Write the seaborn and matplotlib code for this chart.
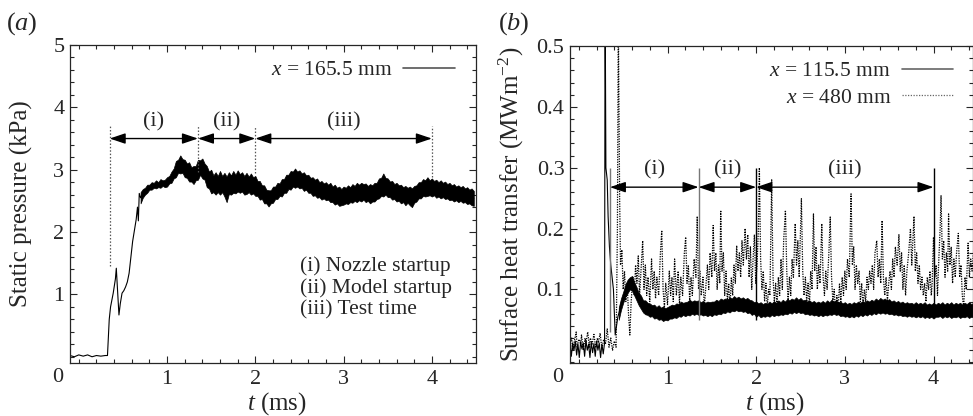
import matplotlib
matplotlib.use("Agg")
import matplotlib.pyplot as plt
from matplotlib.lines import Line2D
from matplotlib.ticker import MultipleLocator
import numpy as np
import seaborn as sns

# ---- data ----
# (a) static pressure at x = 165.5 mm, start-up part (irregular samples)
pa_t_start = [-0.10, -0.05, 0.00, 0.05, 0.10, 0.15, 0.20, 0.25, 0.30, 0.325, 0.345,
              0.36, 0.39, 0.415, 0.425, 0.44, 0.455, 0.47, 0.49, 0.51, 0.53, 0.55,
              0.57, 0.59, 0.61, 0.63, 0.65, 0.665, 0.675, 0.685, 0.70]
pa_p_start = [0.02, 0.00, 0.03, 0.01, 0.03, 0.00, 0.02, 0.01, 0.02, 0.02, 0.60,
              0.80, 1.02, 1.25, 1.42, 1.05, 0.67, 0.85, 1.02, 1.06, 1.12, 1.20,
              1.34, 1.60, 1.85, 2.03, 2.20, 2.40, 2.18, 2.62, 2.55]
# noisy part: upper / lower edge of the trace every 0.025 ms from 0.70 ms
pa_p_upper = [
    2.64, 2.69, 2.71, 2.76, 2.76, 2.80, 2.79, 2.83, 2.80, 2.85, 2.83, 2.84,
    2.88, 2.90, 2.97, 3.02, 3.14, 3.16, 3.23, 3.17, 3.16, 3.10, 3.12, 3.04,
    3.06, 3.06, 3.16, 3.15, 3.18, 3.10, 3.06, 2.97, 3.00, 2.91, 2.96, 2.90,
    2.98, 2.90, 2.95, 2.89, 2.96, 2.91, 2.98, 2.92, 2.99, 2.93, 2.96, 2.90,
    2.95, 2.89, 2.94, 2.88, 2.90, 2.82, 2.82, 2.75, 2.75, 2.68, 2.67, 2.67,
    2.73, 2.73, 2.79, 2.78, 2.85, 2.85, 2.92, 2.92, 2.98, 2.97, 3.02, 2.97,
    2.99, 2.94, 2.96, 2.91, 2.92, 2.87, 2.88, 2.84, 2.86, 2.80, 2.82, 2.78,
    2.80, 2.76, 2.79, 2.73, 2.76, 2.71, 2.73, 2.69, 2.73, 2.71, 2.75, 2.72,
    2.77, 2.74, 2.79, 2.76, 2.79, 2.77, 2.78, 2.74, 2.77, 2.75, 2.79, 2.79,
    2.86, 2.87, 2.94, 2.87, 2.86, 2.81, 2.82, 2.77, 2.79, 2.75, 2.76, 2.72,
    2.74, 2.71, 2.73, 2.70, 2.74, 2.75, 2.80, 2.80, 2.85, 2.83, 2.88, 2.83,
    2.86, 2.82, 2.84, 2.80, 2.83, 2.79, 2.81, 2.77, 2.79, 2.75, 2.77, 2.73,
    2.75, 2.72, 2.74, 2.70, 2.72, 2.68, 2.70, 2.66]
pa_p_lower = [
    2.46, 2.55, 2.60, 2.63, 2.68, 2.68, 2.71, 2.70, 2.72, 2.71, 2.74, 2.72,
    2.73, 2.78, 2.79, 2.86, 2.88, 2.95, 2.94, 2.95, 2.88, 2.87, 2.81, 2.81,
    2.77, 2.83, 2.84, 2.92, 2.86, 2.84, 2.72, 2.70, 2.62, 2.64, 2.60, 2.64,
    2.60, 2.64, 2.57, 2.48, 2.61, 2.60, 2.63, 2.62, 2.65, 2.63, 2.65, 2.60,
    2.61, 2.64, 2.60, 2.62, 2.58, 2.58, 2.52, 2.53, 2.46, 2.46, 2.41, 2.46,
    2.47, 2.53, 2.53, 2.58, 2.57, 2.63, 2.63, 2.69, 2.68, 2.73, 2.71, 2.73,
    2.70, 2.71, 2.66, 2.68, 2.63, 2.63, 2.58, 2.59, 2.55, 2.56, 2.52, 2.54,
    2.51, 2.52, 2.48, 2.48, 2.44, 2.46, 2.42, 2.43, 2.44, 2.46, 2.45, 2.48,
    2.47, 2.50, 2.48, 2.51, 2.49, 2.52, 2.48, 2.50, 2.46, 2.49, 2.49, 2.53,
    2.54, 2.58, 2.57, 2.60, 2.56, 2.56, 2.52, 2.53, 2.49, 2.50, 2.46, 2.48,
    2.43, 2.47, 2.43, 2.40, 2.47, 2.49, 2.54, 2.54, 2.58, 2.57, 2.58, 2.59,
    2.57, 2.59, 2.55, 2.57, 2.54, 2.56, 2.53, 2.54, 2.51, 2.52, 2.49, 2.51,
    2.48, 2.50, 2.47, 2.48, 2.45, 2.46, 2.43, 2.42]

# (b) heat transfer at x = 115.5 mm, start-up part
pb1_t_start = [-0.10, -0.085, -0.07, -0.055, -0.04, -0.025, -0.01, 0.005, 0.02, 0.035,
               0.05, 0.065, 0.08, 0.095, 0.11, 0.125, 0.14, 0.155, 0.17, 0.185, 0.20,
               0.215, 0.23, 0.245, 0.26, 0.275, 0.29, 0.296, 0.305, 0.32, 0.33, 0.345,
               0.36, 0.375, 0.39, 0.40, 0.41, 0.425, 0.44]
pb1_q_start = [0.008, -0.01, 0.012, 0.0, 0.015, -0.008, 0.01, -0.012, 0.014, 0.002,
               0.012, -0.01, 0.016, 0.0, 0.01, -0.012, 0.013, -0.004, 0.011, -0.01, 0.015,
               0.0, 0.012, -0.012, 0.01, -0.006, 0.012, 0.60, 0.30, 0.28, 0.22, 0.17,
               0.14, 0.12, 0.10, 0.06, 0.025, 0.04, 0.055]
# upper / lower edge every 0.025 ms from 0.45 ms
pb1_q_upper = [
    .070, .085, .096, .108, .116, .120, .122, .112, .104, .094, .090, .082,
    .082, .078, .077, .074, .075, .071, .074, .070, .072, .069, .071, .073,
    .075, .074, .077, .076, .080, .078, .079, .080, .083, .080, .082, .081,
    .082, .079, .081, .078, .080, .079, .080, .080, .083, .081, .085, .083,
    .085, .083, .087, .085, .089, .086, .088, .085, .087, .084, .086, .083,
    .082, .079, .080, .077, .079, .076, .078, .076, .080, .077, .081, .078,
    .082, .079, .083, .080, .084, .082, .085, .083, .087, .083, .086, .082,
    .083, .080, .082, .079, .081, .078, .080, .078, .081, .078, .082, .079,
    .083, .080, .082, .079, .080, .077, .079, .076, .078, .076, .079, .077,
    .080, .078, .081, .079, .082, .080, .083, .081, .085, .082, .086, .083,
    .085, .082, .084, .080, .082, .079, .081, .078, .080, .077, .079, .077,
    .078, .076, .079, .076, .078, .076, .079, .075, .077, .075, .078, .075,
    .078, .076, .079, .075, .078, .076, .079, .075, .078, .076, .078, .075,
    .078, .076, .079, .076, .078]
pb1_q_lower = [
    .050, .066, .078, .088, .094, .100, .098, .090, .082, .074, .068, .062,
    .059, .058, .055, .056, .052, .053, .050, .051, .048, .050, .049, .052,
    .052, .054, .053, .056, .055, .058, .056, .058, .057, .060, .058, .060,
    .058, .059, .057, .058, .056, .058, .056, .059, .058, .060, .059, .062,
    .061, .064, .062, .065, .064, .066, .064, .065, .063, .064, .061, .062,
    .058, .060, .055, .058, .054, .056, .055, .057, .055, .058, .056, .058,
    .057, .059, .058, .060, .059, .062, .060, .063, .061, .063, .061, .062,
    .059, .060, .058, .059, .057, .058, .056, .058, .056, .058, .057, .059,
    .058, .060, .058, .059, .056, .057, .055, .056, .054, .056, .054, .057,
    .055, .058, .056, .059, .057, .060, .058, .061, .059, .062, .060, .062,
    .060, .061, .059, .060, .058, .059, .057, .058, .056, .057, .055, .057,
    .055, .056, .054, .056, .054, .056, .053, .055, .053, .055, .052, .055,
    .055, .056, .053, .056, .054, .056, .053, .055, .054, .056, .053, .055,
    .054, .056, .053, .055, .054]

# (b) heat transfer at x = 480 mm (irregular samples, peaks and troughs)
pb2_t = [
    -0.10, -0.08, -0.07, -0.05, -0.03, -0.02, 0.00, 0.02, 0.03, 0.05, 0.07, 0.08, 0.10,
    0.12, 0.13, 0.15, 0.17, 0.19, 0.21, 0.22, 0.24, 0.26, 0.28, 0.30, 0.32, 0.34, 0.36,
    0.38, 0.40, 0.42, 0.435, 0.445, 0.46, 0.47, 0.485, 0.50, 0.515, 0.53, 0.545, 0.56,
    0.575, 0.59, 0.61, 0.625, 0.64, 0.655, 0.67, 0.685, 0.70, 0.72, 0.735, 0.75, 0.765,
    0.78, 0.80, 0.82, 0.835, 0.85, 0.865, 0.88, 0.90, 0.92, 0.935, 0.95, 0.965, 0.98,
    1.00, 1.02, 1.035, 1.05, 1.065, 1.08, 1.10, 1.12, 1.135, 1.15, 1.17, 1.19, 1.205,
    1.22, 1.235, 1.25, 1.265, 1.28, 1.30, 1.32, 1.335, 1.35, 1.365, 1.38, 1.40, 1.415,
    1.43, 1.45, 1.465, 1.48, 1.50, 1.515, 1.53, 1.545, 1.56, 1.575, 1.59, 1.60, 1.615,
    1.63, 1.645, 1.66, 1.675, 1.69, 1.705, 1.72, 1.735, 1.75, 1.765, 1.78, 1.795, 1.81,
    1.825, 1.84, 1.855, 1.875, 1.89, 1.905, 1.92, 1.935, 1.95, 1.965, 1.98, 1.995, 2.01,
    2.025, 2.036, 2.05, 2.065, 2.08, 2.095, 2.11, 2.125, 2.14, 2.155, 2.175, 2.19, 2.205,
    2.22, 2.235, 2.25, 2.265, 2.28, 2.295, 2.31, 2.33, 2.345, 2.36, 2.375, 2.39, 2.405,
    2.42, 2.44, 2.455, 2.47, 2.485, 2.50, 2.51, 2.525, 2.54, 2.555, 2.57, 2.585, 2.60,
    2.615, 2.63, 2.646, 2.66, 2.675, 2.69, 2.705, 2.72, 2.74, 2.755, 2.77, 2.785, 2.80,
    2.82, 2.835, 2.85, 2.865, 2.88, 2.895, 2.91, 2.925, 2.94, 2.955, 2.97, 2.985, 3.00,
    3.015, 3.03, 3.05, 3.07, 3.085, 3.10, 3.115, 3.13, 3.145, 3.16, 3.175, 3.19, 3.205,
    3.22, 3.235, 3.25, 3.265, 3.28, 3.295, 3.31, 3.325, 3.34, 3.36, 3.375, 3.39, 3.405,
    3.42, 3.435, 3.45, 3.465, 3.48, 3.495, 3.51, 3.525, 3.54, 3.555, 3.57, 3.59, 3.61,
    3.625, 3.64, 3.655, 3.67, 3.685, 3.70, 3.72, 3.74, 3.755, 3.78, 3.795, 3.81, 3.825,
    3.84, 3.855, 3.87, 3.885, 3.90, 3.915, 3.93, 3.945, 3.96, 3.975, 3.985, 4.00, 4.015,
    4.03, 4.045, 4.06, 4.075, 4.085, 4.10, 4.115, 4.13, 4.145, 4.16, 4.17, 4.185, 4.20,
    4.215, 4.23, 4.245, 4.26, 4.28, 4.295, 4.31, 4.325, 4.34, 4.355, 4.37, 4.39, 4.405,
    4.42, 4.435, 4.45]
pb2_q = [
    0.012, 0.020, 0.000, 0.015, 0.030, 0.005, 0.018, 0.010, 0.025, 0.000, 0.020, 0.012,
    0.030, 0.005, 0.020, 0.010, 0.026, 0.004, 0.020, 0.012, 0.028, 0.002, 0.018, 0.010,
    0.035, 0.005, 0.020, 0.000, 0.015, 0.005, 0.200, 0.550, 0.250, 0.140, 0.165, 0.100,
    0.130, 0.080, 0.110, 0.060, 0.025, 0.080, 0.120, 0.090, 0.140, 0.110, 0.155, 0.090,
    0.130, 0.180, 0.100, 0.140, 0.090, 0.120, 0.080, 0.150, 0.100, 0.130, 0.085, 0.120,
    0.090, 0.160, 0.197, 0.100, 0.070, 0.110, 0.075, 0.130, 0.090, 0.120, 0.080, 0.150,
    0.090, 0.130, 0.075, 0.120, 0.090, 0.160, 0.186, 0.110, 0.140, 0.080, 0.120, 0.090,
    0.150, 0.120, 0.220, 0.100, 0.130, 0.090, 0.120, 0.070, 0.100, 0.140, 0.100, 0.160,
    0.120, 0.205, 0.130, 0.160, 0.100, 0.140, 0.110, 0.230, 0.130, 0.160, 0.090, 0.130,
    0.080, 0.110, 0.070, 0.120, 0.090, 0.140, 0.110, 0.172, 0.130, 0.160, 0.120, 0.180,
    0.140, 0.200, 0.150, 0.190, 0.120, 0.170, 0.100, 0.150, 0.190, 0.110, 0.140, 0.200,
    0.300, 0.150, 0.100, 0.130, 0.080, 0.110, 0.070, 0.100, 0.090, 0.280, 0.120, 0.080,
    0.110, 0.070, 0.120, 0.090, 0.150, 0.100, 0.180, 0.230, 0.130, 0.080, 0.120, 0.090,
    0.150, 0.120, 0.208, 0.140, 0.180, 0.120, 0.200, 0.249, 0.130, 0.090, 0.120, 0.080,
    0.110, 0.070, 0.130, 0.100, 0.224, 0.130, 0.170, 0.100, 0.140, 0.110, 0.208, 0.120,
    0.090, 0.130, 0.100, 0.160, 0.219, 0.120, 0.080, 0.100, 0.060, 0.090, 0.070, 0.110,
    0.080, 0.120, 0.090, 0.130, 0.100, 0.150, 0.120, 0.257, 0.140, 0.170, 0.100, 0.140,
    0.110, 0.130, 0.080, 0.110, 0.070, 0.100, 0.080, 0.120, 0.100, 0.130, 0.110, 0.140,
    0.100, 0.160, 0.180, 0.120, 0.150, 0.110, 0.213, 0.120, 0.090, 0.120, 0.080, 0.110,
    0.130, 0.100, 0.150, 0.120, 0.170, 0.140, 0.190, 0.130, 0.160, 0.100, 0.140, 0.090,
    0.130, 0.160, 0.200, 0.140, 0.220, 0.130, 0.160, 0.110, 0.140, 0.100, 0.120, 0.090,
    0.110, 0.080, 0.120, 0.100, 0.130, 0.090, 0.110, 0.186, 0.120, 0.140, 0.090, 0.150,
    0.200, 0.254, 0.150, 0.180, 0.120, 0.160, 0.130, 0.224, 0.140, 0.170, 0.110, 0.150,
    0.120, 0.160, 0.192, 0.120, 0.140, 0.090, 0.070, 0.120, 0.100, 0.176, 0.120, 0.150,
    0.130, 0.160]

# flow phases: (i) nozzle startup, (ii) model startup, (iii) test time
phase_edges = [0.35, 1.35, 2.0, 4.0]
phase_names = ["(i)", "(ii)", "(iii)"]
edge_low_a = [1.45, 2.97, 2.94, 2.89]
edge_low_b = [0.03, 0.05, 0.05, 0.06]
arrow_y_a, edge_top_a = 3.5, 3.7
arrow_y_b, edge_top_b = 0.268, 0.30

# noisy stretches: two rows (upper and lower edge) per sample time
ta_grid = np.linspace(0.70, 4.475, len(pa_p_upper))
pa_t = np.concatenate([pa_t_start, ta_grid, ta_grid])
pa_p = np.concatenate([pa_p_start, pa_p_upper, pa_p_lower])
tb_grid = np.linspace(0.45, 4.45, len(pb1_q_upper))
pb1_t = np.concatenate([pb1_t_start, tb_grid, tb_grid])
pb1_q = np.concatenate([pb1_q_start, pb1_q_upper, pb1_q_lower])

sns.set_style("ticks")
plt.rcParams["font.family"] = ["Liberation Serif", "DejaVu Serif"]
plt.rcParams["mathtext.fontset"] = "custom"
plt.rcParams["mathtext.rm"] = "Liberation Serif"
plt.rcParams["mathtext.it"] = "Liberation Serif:italic"
plt.rcParams["font.size"] = 15.5

TICK_FS, LAB_FS, TXT_FS = 16, 18, 15.5

fig = plt.figure(figsize=(9.73, 4.16), dpi=100)
ax1 = fig.add_axes([0.0719, 0.1274, 0.4173, 0.7644])
ax2 = fig.add_axes([0.5858, 0.1274, 0.4137, 0.7620])

band = dict(estimator="mean", errorbar=("pi", 100), color="black", lw=0.8,
            err_kws={"alpha": 1, "lw": 0.5})
sns.lineplot(x=pa_t, y=pa_p, ax=ax1, **band)
sns.lineplot(x=pb2_t, y=pb2_q, ax=ax2, color="black", lw=0.9, estimator=None,
             linestyle=(0, (1, 1.0)))
sns.lineplot(x=pb1_t, y=pb1_q, ax=ax2, **band)


def style_axes(ax):
    for s in ax.spines.values():
        s.set_linewidth(0.9)
        s.set_visible(True)
    ax.xaxis.set_minor_locator(MultipleLocator(0.2))
    ax.tick_params(which="both", direction="in", top=True, right=True, width=0.8)
    ax.tick_params(which="major", length=5, labelsize=TICK_FS)
    ax.tick_params(which="minor", length=2.6)
    ax.tick_params(axis="x", pad=5)
    ax.tick_params(axis="y", pad=4)
    ax.set_xticks([1, 2, 3, 4])
    ax.set_xlabel("$t$ (ms)", fontsize=LAB_FS)
    ax.xaxis.set_label_coords(0.51, -0.085)
    ax.text(-0.031, -0.047, "0", transform=ax.transAxes, ha="center", va="center",
            fontsize=TICK_FS)


def phase_arrows(ax, y, ytxt, xs):
    for a, b, name in zip(xs[:-1], xs[1:], phase_names):
        ax.annotate("", xy=(b, y), xytext=(a, y),
                    arrowprops=dict(arrowstyle="<|-|>,head_length=0.95,head_width=0.32",
                                    color="black", lw=1.0, shrinkA=0, shrinkB=0,
                                    mutation_scale=10))
        ax.text((a + b) / 2, ytxt, name, ha="center", va="center", fontsize=TICK_FS)


# ---- (a) ----
style_axes(ax1)
ax1.set_xlim(-0.1, 4.5)
ax1.set_ylim(-0.1, 5.0)
ax1.set_yticks([1, 2, 3, 4, 5])
ax1.yaxis.set_minor_locator(MultipleLocator(0.2))
ax1.set_ylabel("Static pressure (kPa)", fontsize=LAB_FS)
ax1.yaxis.set_label_coords(-0.09, 0.5)
ax1.vlines(phase_edges, edge_low_a, edge_top_a, colors="#555555", lw=0.9,
           linestyles=(0, (1.2, 1.5)))
phase_arrows(ax1, arrow_y_a, 3.76, phase_edges)
ax1.text(0.566, 0.236, "(i) Nozzle startup\n(ii) Model startup\n(iii) Test time",
         transform=ax1.transAxes, ha="left", va="center", linespacing=1.16,
         fontsize=TXT_FS)
ax1.legend(handles=[Line2D([], [], color="#555555", lw=1.2)],
           labels=["$x$ = 165.5 mm"], loc="upper right", bbox_to_anchor=(0.985, 1.0),
           frameon=False, markerfirst=False, handlelength=2.4, handletextpad=0.5,
           borderaxespad=0.3, fontsize=TXT_FS)
fig.text(22 / 973, 1 - 24 / 416, "($a$)", ha="center", va="center", fontsize=19)

# ---- (b) ----
style_axes(ax2)
ax2.set_xlim(-0.1, 4.44)
ax2.set_ylim(-0.021, 0.5)
ax2.set_yticks([0.1, 0.2, 0.3, 0.4, 0.5])
ax2.yaxis.set_minor_locator(MultipleLocator(0.02))
ax2.set_ylabel("Surface heat transfer (MWm$^{-2}$)", fontsize=LAB_FS)
ax2.yaxis.set_label_coords(-0.11, 0.5)
ax2.vlines(phase_edges, edge_low_b, edge_top_b,
           colors=["#777777", "#777777", "black", "black"], lw=1.0)
phase_arrows(ax2, arrow_y_b, 0.296, phase_edges)
ax2.legend(handles=[Line2D([], [], color="#666666", lw=1.2),
                    Line2D([], [], color="#666666", lw=0.9, ls=(0, (1, 1.2)))],
           labels=["$x$ = 115.5 mm", "$x$ = 480 mm"], loc="upper right",
           bbox_to_anchor=(0.99, 1.0), frameon=False, markerfirst=False,
           handlelength=2.4, handletextpad=0.5, labelspacing=0.3,
           borderaxespad=0.3, fontsize=TXT_FS)
fig.text(514 / 973, 1 - 24 / 416, "($b$)", ha="center", va="center", fontsize=19)

fig.savefig("out.png", dpi=100)
